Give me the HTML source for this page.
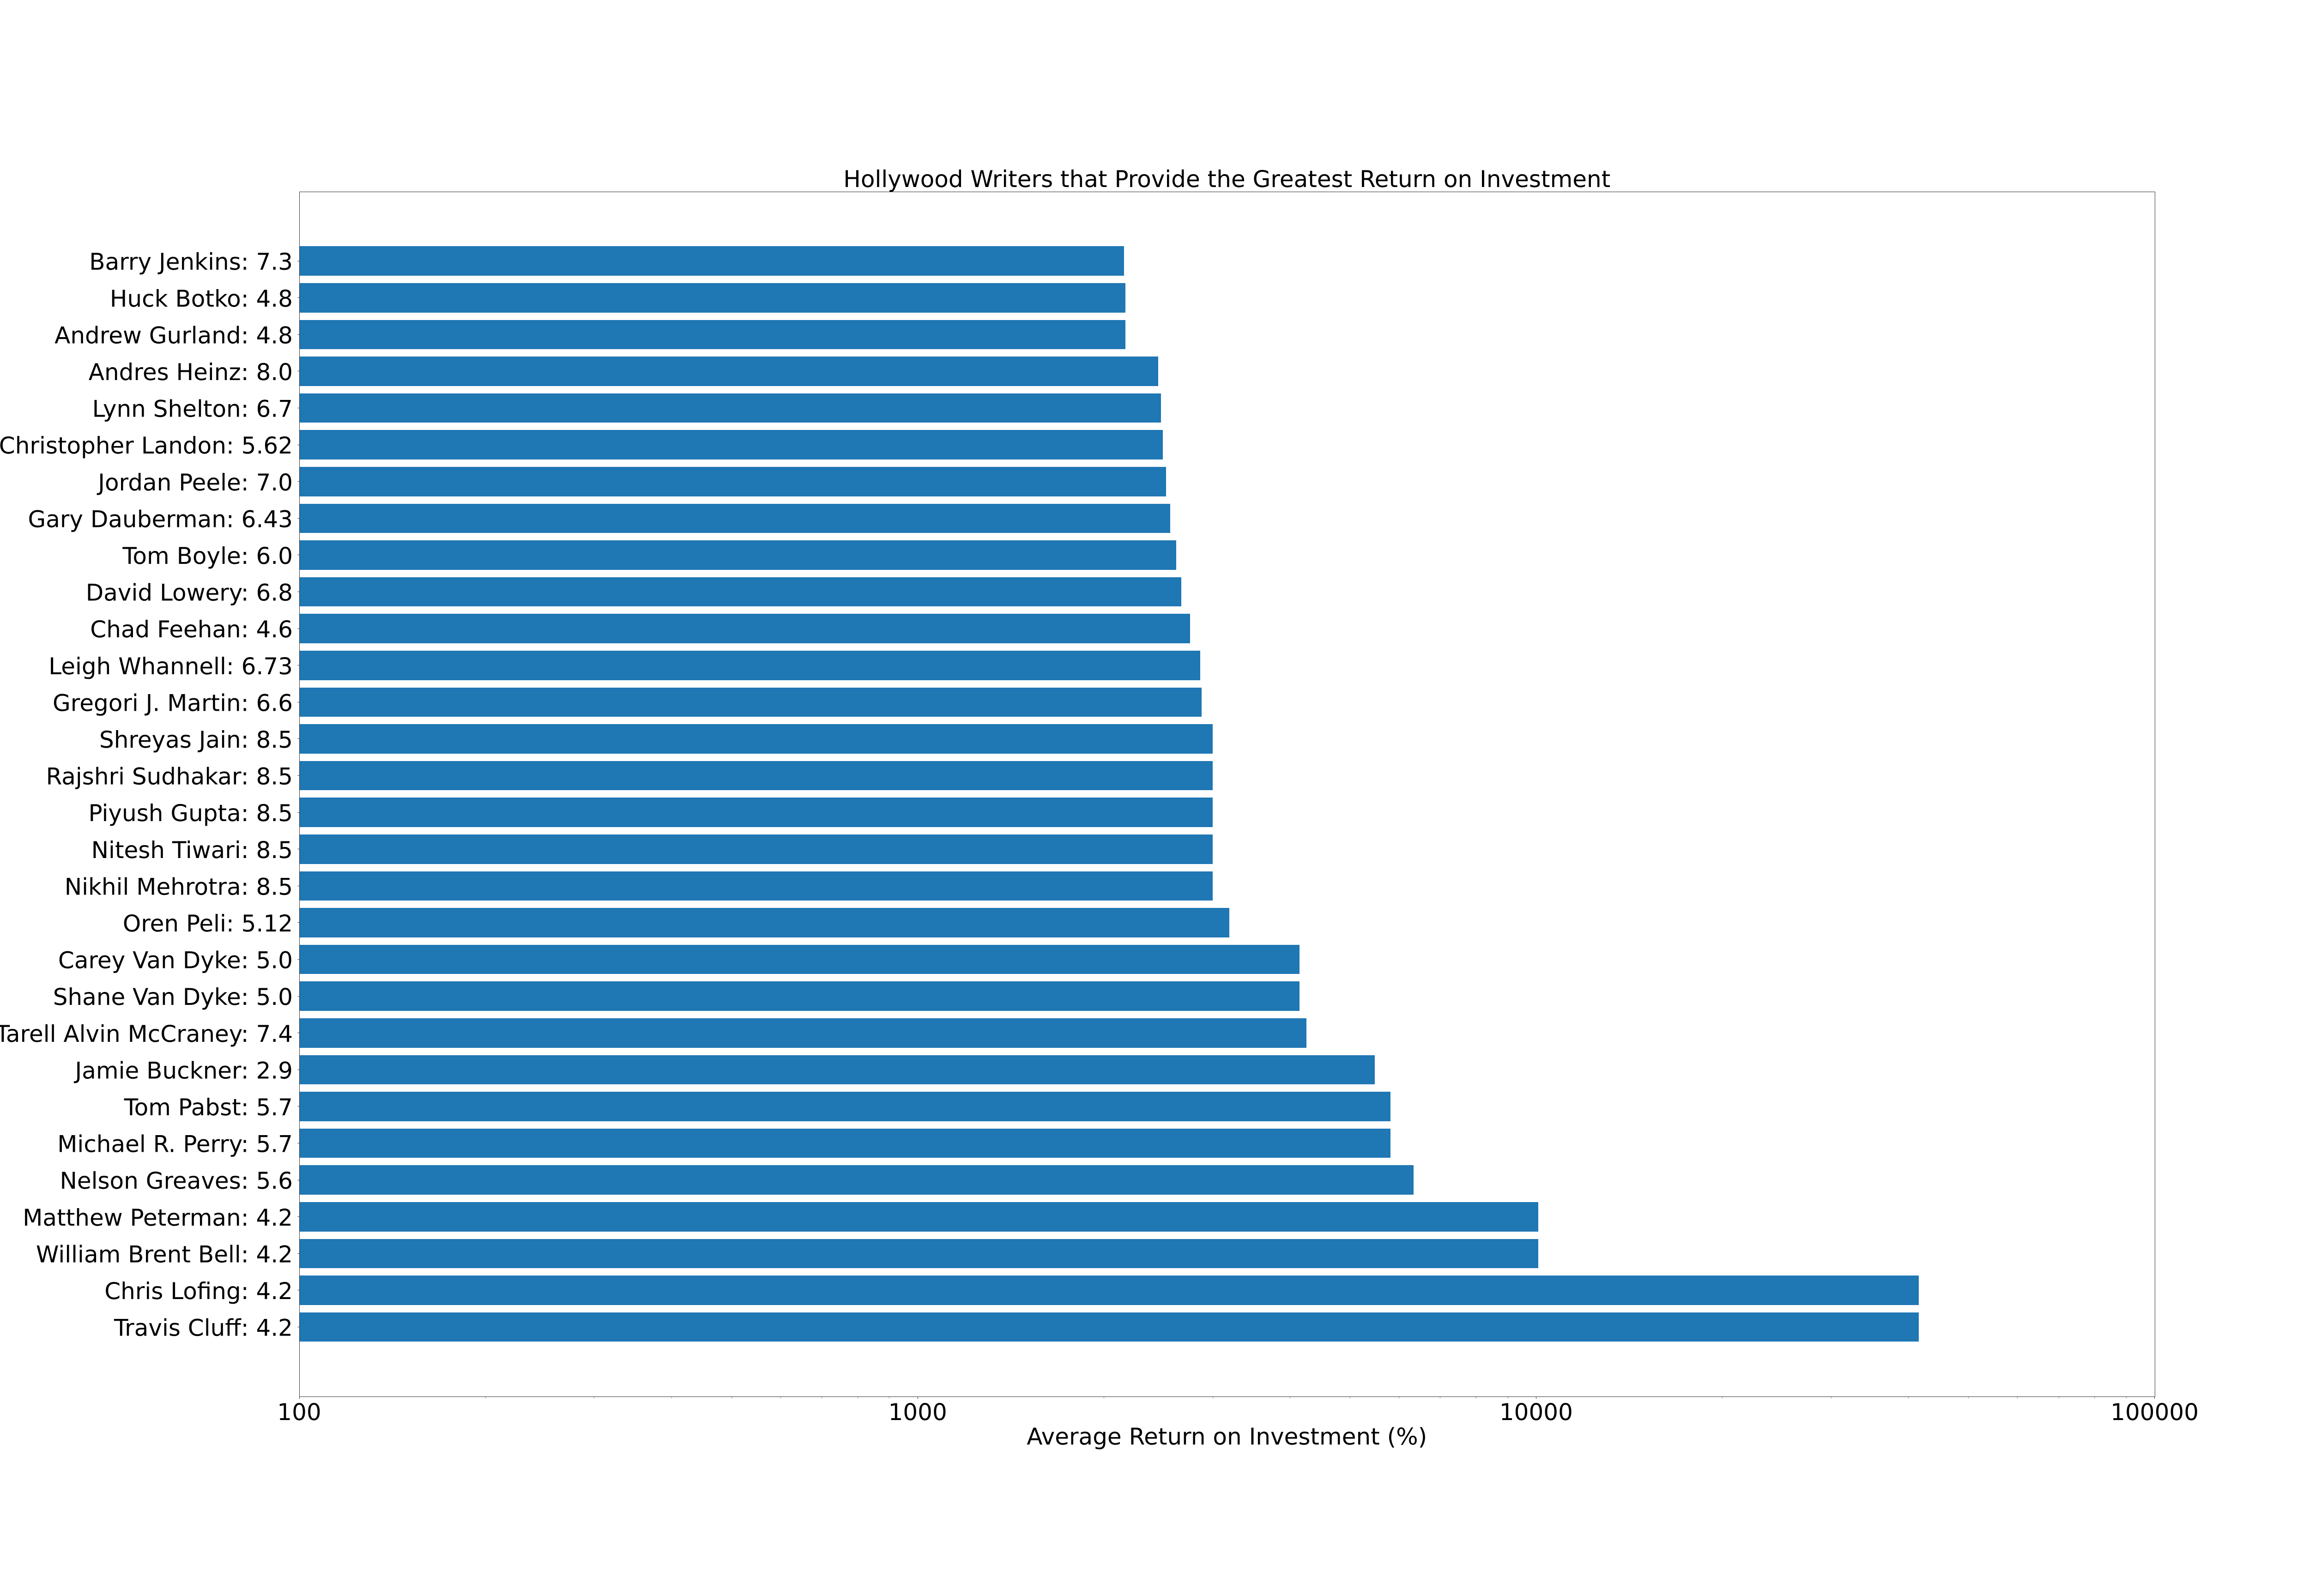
<!DOCTYPE html>
<html lang="en">
<head>
<meta charset="utf-8">
<title>Hollywood Writers that Provide the Greatest Return on Investment</title>
<style>
html,body{margin:0;padding:0;background:#fff;width:5184px;height:3456px;overflow:hidden}
svg{display:block}
text{font-family:"DejaVu Sans","Liberation Sans",sans-serif;font-size:50px;fill:#000;text-rendering:geometricPrecision}
</style>
</head>
<body>
<svg id="chart" xmlns="http://www.w3.org/2000/svg" width="5184" height="3456" viewBox="0 0 5184 3456">
<rect x="0" y="0" width="5184" height="3456" fill="#ffffff"/>
<g id="bars"></g>
<g id="axes"></g>
<text id="chart-title" x="2656.8" y="405" text-anchor="middle">Hollywood Writers that Provide the Greatest Return on Investment</text>
<text id="x-title" x="2656.8" y="3128" text-anchor="middle">Average Return on Investment (%)</text>
</svg>
<script>
const categories = [
  "Barry Jenkins: 7.3", "Huck Botko: 4.8", "Andrew Gurland: 4.8", "Andres Heinz: 8.0",
  "Lynn Shelton: 6.7", "Christopher Landon: 5.62", "Jordan Peele: 7.0", "Gary Dauberman: 6.43",
  "Tom Boyle: 6.0", "David Lowery: 6.8", "Chad Feehan: 4.6", "Leigh Whannell: 6.73",
  "Gregori J. Martin: 6.6", "Shreyas Jain: 8.5", "Rajshri Sudhakar: 8.5", "Piyush Gupta: 8.5",
  "Nitesh Tiwari: 8.5", "Nikhil Mehrotra: 8.5", "Oren Peli: 5.12", "Carey Van Dyke: 5.0",
  "Shane Van Dyke: 5.0", "Tarell Alvin McCraney: 7.4", "Jamie Buckner: 2.9", "Tom Pabst: 5.7",
  "Michael R. Perry: 5.7", "Nelson Greaves: 5.6", "Matthew Peterman: 4.2", "William Brent Bell: 4.2",
  "Chris Lofing: 4.2", "Travis Cluff: 4.2"
];
const roiValues = [
  2156, 2167, 2167, 2448, 2474, 2491, 2521, 2560, 2618, 2668,
  2757, 2863, 2878, 3000, 3000, 3000, 3000, 3000, 3191, 4144,
  4144, 4252, 5484, 5814, 5814, 6336, 10079, 10079, 41580, 41580
];
const xTickValues = [100, 1000, 10000, 100000];
const xTickLabels = ["100", "1000", "10000", "100000"];
const xMinorMultiples = [2, 3, 4, 5, 6, 7, 8, 9];

const NS = "http://www.w3.org/2000/svg";
const plot = { left: 648, right: 4665.6, top: 414.72, bottom: 3024 };
const xDomain = [100, 100000];
const barThickness = 0.8;
const yMargin = 0.05;

function xScale(v) {
  const lo = Math.log10(xDomain[0]);
  const hi = Math.log10(xDomain[1]);
  return plot.left + (Math.log10(v) - lo) / (hi - lo) * (plot.right - plot.left);
}
const ySpan = (categories.length - 1 + barThickness) * (1 + 2 * yMargin);
const yUnit = (plot.bottom - plot.top) / ySpan;
function yScale(i) {
  const offset = (categories.length - 1 + barThickness) * yMargin + barThickness / 2;
  return plot.top + (offset + i) * yUnit;
}

function make(tag, attrs) {
  const el = document.createElementNS(NS, tag);
  for (const k in attrs) el.setAttribute(k, attrs[k]);
  return el;
}

const barsGroup = document.getElementById("bars");
const axesGroup = document.getElementById("axes");

roiValues.forEach(function (v, i) {
  const c = yScale(i);
  const y0 = Math.round(c - barThickness * yUnit / 2);
  const y1 = Math.round(c + barThickness * yUnit / 2);
  const rect = make("rect", {
    x: plot.left,
    y: y0,
    width: Math.round(xScale(v)) - plot.left,
    height: y1 - y0,
    fill: "#1f77b4",
    "shape-rendering": "crispEdges"
  });
  
  
  barsGroup.appendChild(rect);
});

categories.forEach(function (label, i) {
  const c = yScale(i);
  const tick = make("line", {
    x1: 644.5, x2: 648.5,
    y1: Math.floor(c) + 0.5, y2: Math.floor(c) + 0.5,
    stroke: "#333", "stroke-width": 1, "shape-rendering": "crispEdges"
  });
  
  
  axesGroup.appendChild(tick);
  const t = make("text", { x: 634, y: c + 19, "text-anchor": "end" });
  t.textContent = label;
  
  
  axesGroup.appendChild(t);
});

xTickValues.forEach(function (v, i) {
  const x = xScale(v);
  const px = Math.floor(x) + 0.5;
  const tick = make("line", {
    x1: px, x2: px, y1: 3024.5, y2: 3029,
    stroke: "#333", "stroke-width": 1, "shape-rendering": "crispEdges"
  });
  
  
  axesGroup.appendChild(tick);
  const t = make("text", { x: x, y: 3075, "text-anchor": "middle" });
  t.textContent = xTickLabels[i];
  
  
  axesGroup.appendChild(t);
  if (i < xTickValues.length - 1) {
    xMinorMultiples.forEach(function (m) {
      const mx = Math.floor(xScale(v * m)) + 0.5;
      const minor = make("line", {
        x1: mx, x2: mx, y1: 3024.5, y2: 3027.5,
        stroke: "#777", "stroke-width": 1, "shape-rendering": "crispEdges"
      });
      
      
      axesGroup.appendChild(minor);
    });
  }
});

const spineLeft = make("line", { x1: 648.5, x2: 648.5, y1: 415, y2: 3025, stroke: "#333", "stroke-width": 1, "shape-rendering": "crispEdges" });


axesGroup.appendChild(spineLeft);
const spineRight = make("line", { x1: 4666.5, x2: 4666.5, y1: 415, y2: 3025, stroke: "#333", "stroke-width": 1, "shape-rendering": "crispEdges" });


axesGroup.appendChild(spineRight);
const spineTop = make("line", { x1: 648, x2: 4667, y1: 415.5, y2: 415.5, stroke: "#333", "stroke-width": 1, "shape-rendering": "crispEdges" });


axesGroup.appendChild(spineTop);
const spineBottom = make("line", { x1: 648, x2: 4667, y1: 3024.5, y2: 3024.5, stroke: "#333", "stroke-width": 1, "shape-rendering": "crispEdges" });


axesGroup.appendChild(spineBottom);
</script>
</body>
</html>
